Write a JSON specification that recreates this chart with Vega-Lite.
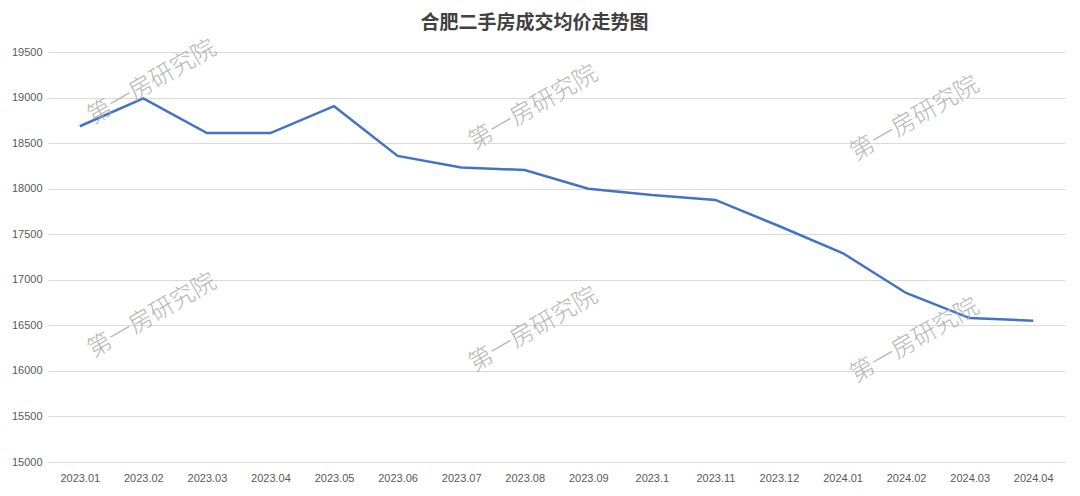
{
  "$schema": "https://vega.github.io/schema/vega-lite/v6.json",
  "autosize": {"type": "none"},
  "width": 1017,
  "height": 410,
  "padding": {"left": 48, "top": 52, "right": 15, "bottom": 34},
  "background": "#ffffff",
  "title": {
    "text": "合肥二手房成交均价走势图",
    "anchor": "middle",
    "dx": -22,
    "offset": 3,
    "font": "Noto Sans CJK SC",
    "fontSize": 19,
    "fontWeight": "bold",
    "color": "#404040"
  },
  "config": {
    "view": {"stroke": null},
    "axis": {"labelFont": "Liberation Sans", "labelFontSize": 11, "labelColor": "#595959", "ticks": false, "title": null}
  },
  "datasets": {
    "prices": [
      {"month": "2023.01", "price": 18685},
      {"month": "2023.02", "price": 18990},
      {"month": "2023.03", "price": 18610},
      {"month": "2023.04", "price": 18610},
      {"month": "2023.05", "price": 18905},
      {"month": "2023.06", "price": 18360},
      {"month": "2023.07", "price": 18232},
      {"month": "2023.08", "price": 18205},
      {"month": "2023.09", "price": 18000},
      {"month": "2023.1", "price": 17930},
      {"month": "2023.11", "price": 17876},
      {"month": "2023.12", "price": 17590},
      {"month": "2024.01", "price": 17294},
      {"month": "2024.02", "price": 16855},
      {"month": "2024.03", "price": 16580},
      {"month": "2024.04", "price": 16550}
    ],
    "watermarks": [
      {"month": "2023.02", "price": 19110, "label": "第一房研究院"},
      {"month": "2023.08", "price": 18830, "label": "第一房研究院"},
      {"month": "2024.02", "price": 18710, "label": "第一房研究院"},
      {"month": "2023.02", "price": 16548, "label": "第一房研究院"},
      {"month": "2023.08", "price": 16394, "label": "第一房研究院"},
      {"month": "2024.02", "price": 16273, "label": "第一房研究院"}
    ]
  },
  "layer": [
    {
      "data": {"name": "prices"},
      "mark": {"type": "line", "color": "#4472C4", "strokeWidth": 2.5},
      "encoding": {
        "x": {
          "field": "month", "type": "ordinal", "sort": null,
          "scale": {"paddingInner": 0, "paddingOuter": 0.5},
          "axis": {"labelAngle": 0, "domainColor": "#d9d9d9", "labelPadding": 10, "grid": false}
        },
        "y": {
          "field": "price", "type": "quantitative",
          "scale": {"domain": [15000, 19500], "nice": false, "zero": false},
          "axis": {"values": [15000, 15500, 16000, 16500, 17000, 17500, 18000, 18500, 19000, 19500], "format": "d", "domain": false, "gridColor": "#d9d9d9", "labelPadding": 6}
        }
      }
    },
    {
      "data": {"name": "watermarks"},
      "mark": {"type": "text", "angle": -30, "font": "Noto Sans CJK SC", "fontSize": 24, "fontWeight": 300, "color": "#b0b0b0", "opacity": 0.9, "align": "center", "baseline": "middle", "dx": 10},
      "encoding": {
        "x": {"field": "month", "type": "ordinal", "sort": null},
        "y": {"field": "price", "type": "quantitative"},
        "text": {"field": "label"}
      }
    }
  ]
}
